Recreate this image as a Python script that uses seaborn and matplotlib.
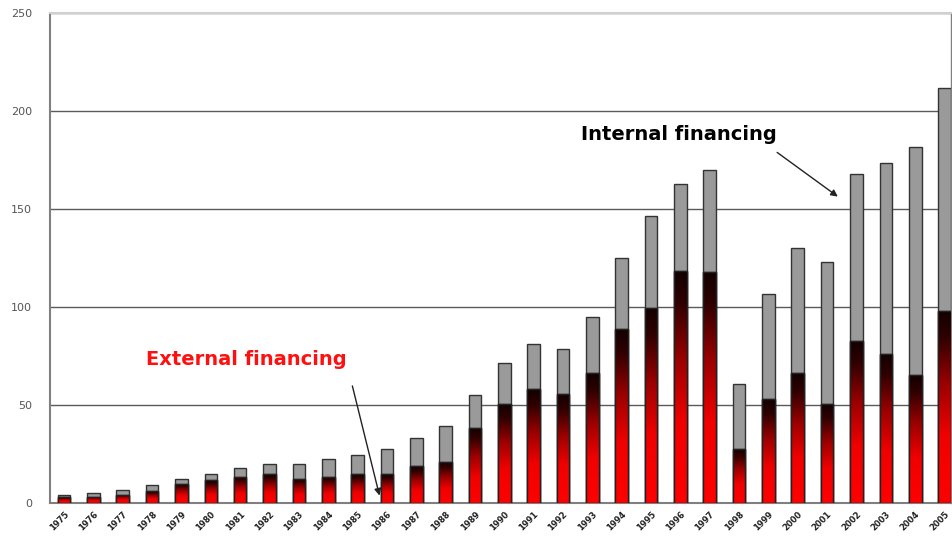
import numpy as np
import matplotlib
matplotlib.use('Agg')
import matplotlib.pyplot as plt
from matplotlib.colors import LinearSegmentedColormap
from matplotlib.ticker import FixedLocator
import seaborn as sns

years = ['1975', '1976', '1977', '1978', '1979', '1980', '1981', '1982', '1983', '1984',
         '1985', '1986', '1987', '1988', '1989', '1990', '1991', '1992', '1993', '1994',
         '1995', '1996', '1997', '1998', '1999', '2000', '2001', '2002', '2003', '2004', '2005']
external = [3, 3.3, 4.3, 6, 9.7, 11.7, 13.4, 14.6, 12.4, 13.4,
            14.6, 14.6, 18.7, 21.1, 38.4, 50.4, 58, 55.5, 66.2, 88.8,
            99.7, 118.5, 117.9, 27.6, 52.9, 66.2, 50.4, 82.7, 76, 65.5, 98.1]
internal = [1, 1.7, 2.2, 3.2, 2.5, 2.9, 4.6, 5.4, 7.6, 8.9,
            9.7, 12.8, 14.3, 18.2, 16.7, 21.2, 23, 23.2, 28.7, 36,
            46.7, 44.1, 52, 32.9, 53.7, 64.1, 72.6, 85.3, 97.3, 116, 113.6]
yticks = [0, 50, 100, 150, 200, 250]

total = [e + i for e, i in zip(external, internal)]

sns.set_theme(style="white")
plt.rcParams['font.family'] = ['DejaVu Sans']

fig = plt.figure(figsize=(9.52, 5.41), dpi=100)
ax = fig.add_axes([50 / 952, 38 / 541, 901 / 952, 490 / 541])

# gray = whole bar, red drawn over it
sns.barplot(x=years, y=total, color='#9a9a9a', saturation=1, width=0.43,
            edgecolor='#333333', linewidth=1, ax=ax, zorder=3)
sns.barplot(x=years, y=external, color='#ff0000', saturation=1, width=0.43,
            edgecolor='#222222', linewidth=1, ax=ax, zorder=4)

# red -> black gradient inside every external bar
cmap = LinearSegmentedColormap.from_list(
    'ext', [(0, '#ff0000'), (0.35, '#f00000'), (0.62, '#9a0000'), (0.86, '#300000'), (1, '#120000')])
grad = np.linspace(0, 1, 256).reshape(-1, 1)
for p in ax.patches[len(years):]:
    x0, y0, w, h = p.get_x(), p.get_y(), p.get_width(), p.get_height()
    im = ax.imshow(grad, cmap=cmap, extent=[x0, x0 + w, y0, y0 + h], origin='lower',
                   aspect='auto', zorder=4.5)
    im.set_clip_path(p)
    ax.add_patch(plt.Rectangle((x0, y0), w, h, fill=False, edgecolor='#222222',
                               linewidth=1, zorder=5))

ax.set_xlim(-0.48, 30.22)
ax.set_ylim(0, 250)
ax.set_yticks(yticks)
ax.set_yticklabels([str(v) for v in yticks], fontsize=8, color='#555555')
ax.yaxis.grid(True, color='#5a5a5a', linewidth=1)
ax.set_axisbelow(True)
ax.set_xlabel('')
ax.set_ylabel('')

ax.tick_params(axis='y', length=0, pad=13)
ax.tick_params(axis='x', which='major', length=0, pad=5)
ax.xaxis.set_minor_locator(FixedLocator(np.arange(len(years)) + 0.5))
ax.tick_params(axis='x', which='minor', direction='in', length=3, width=1, color='#333333')
for lab in ax.get_xticklabels():
    lab.set_rotation(45)
    lab.set_ha('right')
    lab.set_rotation_mode('anchor')
    lab.set_fontsize(6)
    lab.set_fontweight('bold')
    lab.set_color('#222222')

for side in ['left', 'bottom']:
    ax.spines[side].set_color('#808080')
    ax.spines[side].set_linewidth(1.5)
ax.spines['top'].set_color('#d0d0d0')
ax.spines['top'].set_linewidth(1.5)
ax.spines['right'].set_color('#808080')
ax.spines['right'].set_linewidth(1)

ax.text(20.95, 187.8, 'Internal financing', fontsize=14, fontweight='bold',
        color='black', ha='center', va='center', zorder=6)
ax.annotate('', xy=(26.44, 155.5), xytext=(24.22, 179.7),
            arrowprops=dict(arrowstyle='-|>', color='#222222', lw=1, mutation_scale=10), zorder=6)
ax.text(6.2, 73, 'External financing', fontsize=14, fontweight='bold',
        color='#ff1010', ha='center', va='center', zorder=6)
ax.annotate('', xy=(10.77, 2.4), xytext=(9.80, 61.1),
            arrowprops=dict(arrowstyle='-|>', color='#222222', lw=1, mutation_scale=10), zorder=6)

plt.savefig('out.png', dpi=100)
